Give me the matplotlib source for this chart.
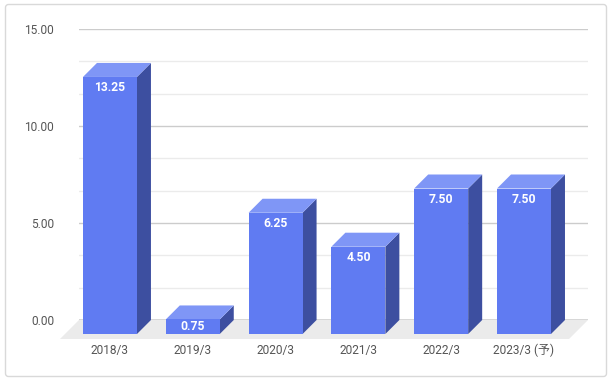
import numpy as np
import matplotlib
matplotlib.use("Agg")
import matplotlib.pyplot as plt
from matplotlib.patches import Polygon, FancyBboxPatch

plt.rcParams['font.family'] = ['Roboto', 'Noto Sans CJK JP', 'DejaVu Sans']

# ===== データ =====
categories = ["2018/3", "2019/3", "2020/3", "2021/3", "2022/3", "2023/3 (予)"]
dividends = [13.25, 0.75, 6.25, 4.50, 7.50, 7.50]
y_ticks = [0, 5, 10, 15]
y_tick_labels = ["0.00", "5.00", "10.00", "15.00"]

# ===== 見た目 =====
W, H, DPI = 613, 383, 100
FRONT = "#607bf2"
TOP = "#7f96f6"
SIDE = "#3d4fa0"
FLOOR = "#ebebeb"
TEXT = "#555555"
DEPTH_PX = 14     # 棒の奥行き
FLOOR_PX = 19     # 床の奥行き
BAR_W = 0.652

fig = plt.figure(figsize=(W / DPI, H / DPI), dpi=DPI)
ax = fig.add_axes([79 / W, 63 / H, 509 / W, 291 / H])
ax.set_xlim(-0.543, 5.604)
ax.set_ylim(0, 15)
for s in ax.spines.values():
    s.set_visible(False)

# ----- ピクセル -> データ単位 -----
o = ax.transData.transform((0, 0))
px_x = ax.transData.transform((1, 0))[0] - o[0]
px_y = ax.transData.transform((0, 1))[1] - o[1]
dx = DEPTH_PX / px_x
dy = DEPTH_PX / px_y

# ----- グリッド -----
for y in np.arange(0, 15.01, 5 / 3):
    if abs(y) < 1e-9:
        continue
    major = abs(y / 5 - round(y / 5)) < 1e-6
    ax.axhline(y, color="#cccccc" if major else "#ebebeb", lw=1, zorder=1)

# ----- 床 -----
fx = FLOOR_PX / ax.bbox.width
fy = FLOOR_PX / ax.bbox.height
ax.add_patch(Polygon([(0, 0), (1, 0), (1 - fx, -fy), (-fx, -fy)], closed=True,
                     transform=ax.transAxes, facecolor=FLOOR, edgecolor="none",
                     clip_on=False, zorder=0.5))
ax.axhline(0, color="#333333", lw=1, zorder=2)

# ----- 棒 -----
for i, v in enumerate(dividends):
    x0, x1 = i - BAR_W / 2, i + BAR_W / 2
    front = [(x0 - dx, -dy), (x1 - dx, -dy), (x1 - dx, v - dy), (x0 - dx, v - dy)]
    top = [(x0 - dx, v - dy), (x1 - dx, v - dy), (x1, v), (x0, v)]
    side = [(x1 - dx, -dy), (x1, 0), (x1, v), (x1 - dx, v - dy)]
    for pts, c in [(side, SIDE), (top, TOP), (front, FRONT)]:
        ax.add_patch(Polygon(pts, closed=True, facecolor=c, edgecolor="none",
                             clip_on=False, zorder=3))
    off_px = min(11, v * px_y / 2)
    ax.annotate(f"{v:.2f}", xy=(i - dx, v - dy), xytext=(0, -off_px * 72 / DPI),
                textcoords="offset points", ha="center", va="center",
                color="white", fontweight="bold", fontsize=8.7, zorder=4)

# ----- 軸ラベル -----
ax.set_xticks(np.arange(len(categories)) - dx, categories)
ax.set_yticks(y_ticks, y_tick_labels)
ax.tick_params(axis="x", length=0, pad=17, labelsize=8.6, labelcolor=TEXT)
ax.tick_params(axis="y", length=0, pad=18, labelsize=8.6, labelcolor=TEXT)

# ----- 外枠 -----
fig.patches.append(FancyBboxPatch((5.5, 6.5), 601, 372,
                                  boxstyle="round,pad=0,rounding_size=3",
                                  transform=None, facecolor="none",
                                  edgecolor="#d9d9d9", lw=1))

fig.savefig("out.png", dpi=DPI)
